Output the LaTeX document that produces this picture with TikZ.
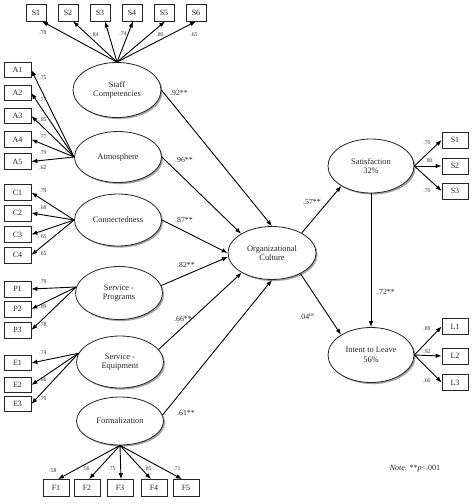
\documentclass[tikz,border=0pt]{standalone}
\usepackage{fontspec}
\setmainfont{Liberation Serif}
\usetikzlibrary{arrows.meta,shadows,shapes.geometric}
\begin{document}
\begin{tikzpicture}[x=1pt,y=-1pt,
  lat/.style={ellipse,draw=black!85,line width=0.8pt,fill=white,inner sep=0pt,
    minimum width=87pt,minimum height=53pt,align=center,text=black!85,
    font=\fontsize{8.4}{9.6}\selectfont,
    drop shadow={shadow xshift=1.6pt,shadow yshift=-1.6pt,fill=black!45,opacity=0.8}},
  ind/.style={rectangle,draw=black!85,line width=0.7pt,fill=white,inner sep=0pt,
    minimum width=27pt,minimum height=15.5pt,text=black!85,font=\fontsize{8}{9}\selectfont},
  topind/.style={ind,minimum width=20pt,minimum height=17pt},
  botind/.style={ind,minimum width=26pt,minimum height=17pt},
  rind/.style={ind,minimum width=26pt,minimum height=16pt},
  arr/.style={-{Latex[length=6pt,width=4.5pt]},line width=0.9pt,black},
  ld/.style={font=\fontsize{5.8}{6.5}\selectfont,text=black!80,inner sep=0pt},
  pl/.style={font=\fontsize{7.8}{8.5}\selectfont,text=black!85,inner sep=0pt}]
\useasboundingbox (0,0) rectangle (474,504);

% latent variables
\node[lat,minimum width=88pt,minimum height=55pt] (staff) at (117,90) {Staff\\Competencies};
\node[lat,minimum height=51pt] (atm) at (118,157) {Atmosphere};
\node[lat,minimum height=52pt] (conn) at (118,220) {Connectedness};
\node[lat] (sp) at (119,293) {Service -\\Programs};
\node[lat,minimum height=52pt] (se) at (120,362) {Service -\\Equipment};
\node[lat,minimum height=48pt] (form) at (120,421) {Formalization};
\node[lat,minimum width=88pt,minimum height=53pt] (oc) at (272,253) {Organizational\\Culture};
\node[lat,minimum width=86pt,minimum height=54pt] (sat) at (371,166) {Satisfaction\\32\%};
\node[lat,minimum width=86pt,minimum height=55pt] (itl) at (371,355) {Intent to Leave\\56\%};

% top indicators
\foreach \i/\x in {1/36,2/68,3/100,4/132,5/164,6/196}
  \node[topind] (ts\i) at (\x,12.5) {S\i};
% A indicators
\foreach \i/\y in {1/70,2/93,3/116,4/139.5,5/161.5}
  \node[ind] (a\i) at (17.5,\y) {A\i};
% C indicators
\foreach \i/\y in {1/192.5,2/213,3/234.5,4/255}
  \node[ind,minimum height=16pt] (c\i) at (17.5,\y) {C\i};
% P indicators
\foreach \i/\y in {1/289,2/309,3/330}
  \node[ind,minimum height=16pt] (p\i) at (17.5,\y) {P\i};
% E indicators
\foreach \i/\y in {1/363,2/385,3/404}
  \node[ind,minimum height=15pt] (e\i) at (17.5,\y) {E\i};
% F indicators
\foreach \i/\x in {1/56,2/87,3/120,4/154,5/186}
  \node[botind] (f\i) at (\x,488) {F\i};
% right S indicators
\foreach \i/\y in {1/140,2/166,3/191}
  \node[rind] (rs\i) at (455,\y) {S\i};
% L indicators
\foreach \i/\y in {1/326.5,2/356,3/382.5}
  \node[rind] (l\i) at (455,\y) {L\i};

% measurement arrows
\draw[arr] (staff.north) -- ([xshift=6pt]ts1.south);
\draw[arr] (staff.north) -- ([xshift=5pt]ts2.south);
\draw[arr] (staff.north) -- ([xshift=5pt]ts3.south);
\draw[arr] (staff.north) -- ([xshift=1pt]ts4.south);
\draw[arr] (staff.north) -- ([xshift=1pt]ts5.south);
\draw[arr] (staff.north) -- (ts6.south);
\foreach \i in {1,...,5} \draw[arr] (atm.west) -- (a\i.east);
\foreach \i in {1,...,4} \draw[arr] (conn.west) -- (c\i.east);
\foreach \i in {1,...,3} \draw[arr] (sp.172) -- (p\i.east);
\foreach \i in {1,...,3} \draw[arr] (se.168) -- (e\i.east);
\draw[arr] (form.south) -- ([xshift=2pt]f1.north);
\draw[arr] (form.south) -- ([xshift=2pt]f2.north);
\draw[arr] (form.south) -- ([xshift=1pt]f3.north);
\draw[arr] (form.south) -- ([xshift=-3pt]f4.north);
\draw[arr] (form.south) -- ([xshift=-4pt]f5.north);
\foreach \i in {1,...,3} \draw[arr] (sat.east) -- (rs\i.west);
\foreach \i in {1,...,3} \draw[arr] (itl.east) -- (l\i.west);

% structural paths
\draw[arr] (staff.east) -- (oc.north);
\draw[arr] (atm.east) -- (oc.148);
\draw[arr] (conn.east) -- (oc.west);
\draw[arr] (sp.10) -- (oc.185);
\draw[arr] (se.18) -- (oc.213);
\draw[arr] (form.8) -- (oc.south);
\draw[arr] (oc.34) -- (sat.214);
\draw[arr] (oc.-36) -- (itl.146);
\draw[arr] (sat.south) -- (itl.north);

% loading labels
\node[ld] (lts1) at (43,33) {.78};
\node[ld] (lts2) at (95,35) {.84};
\node[ld] (lts3) at (123,34) {.74};
\node[ld] (lts4) at (160,35) {.80};
\node[ld] (lts5) at (194,35) {.65};
\node[ld] (la1) at (43,78) {.75};
\node[ld] (la2) at (43,100) {.77};
\node[ld] (la3) at (43,120) {.85};
\node[ld] (la4) at (43,137) {.77};
\node[ld] (la5) at (43,153) {.79};
\node[ld] (la6) at (43,168) {.62};
\node[ld] (lc1) at (43,191) {.79};
\node[ld] (lc2) at (43,208) {.68};
\node[ld] (lc3) at (43,237) {.65};
\node[ld] (lc4) at (43,254) {.65};
\node[ld] (lp1) at (43,282) {.79};
\node[ld] (lp2) at (43,307) {.89};
\node[ld] (lp3) at (43,325) {.78};
\node[ld] (le1) at (43,353) {.74};
\node[ld] (le2) at (43,380) {.86};
\node[ld] (le3) at (43,399) {.79};
\node[ld] (lf1) at (53,471) {.58};
\node[ld] (lf2) at (86,469) {.56};
\node[ld] (lf3) at (112,469) {.75};
\node[ld] (lf4) at (148,469) {.85};
\node[ld] (lf5) at (177,469) {.71};
\node[ld] (lrs1) at (427,143) {.70};
\node[ld] (lrs2) at (429,161) {.80};
\node[ld] (lrs3) at (427,191) {.70};
\node[ld] (ll1) at (427,329) {.89};
\node[ld] (ll2) at (427,352) {.92};
\node[ld] (ll3) at (427,381) {.60};

% path labels
\node[pl] (p92) at (179,93) {.92**};
\node[pl] (p96) at (184,160) {.96**};
\node[pl] (p87) at (184,220) {.87**};
\node[pl] (p82) at (186,265) {.82**};
\node[pl] (p66) at (183,319) {.66**};
\node[pl] (p61) at (186,413) {.61**};
\node[pl] (p57) at (312,202) {.57**};
\node[pl] (p72) at (386,292) {.72**};
\node[pl] (p04) at (307,317) {.04$^{\mathit{ns}}$};

% note
\node[pl,font=\fontsize{8}{9}\selectfont] (note) at (415,469) {\textit{Note.} **\textit{p}<.001};
\end{tikzpicture}
\end{document}
